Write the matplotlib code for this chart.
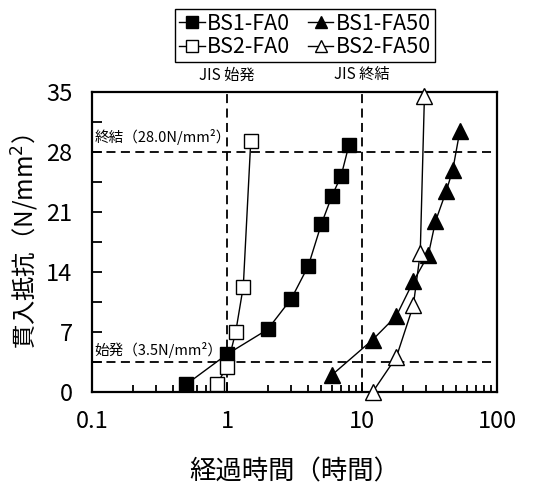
import matplotlib
matplotlib.use('Agg')
import matplotlib.pyplot as plt
from matplotlib.ticker import FixedLocator, NullFormatter, MultipleLocator

plt.rcParams['font.family'] = ['Noto Sans CJK JP', 'DejaVu Sans']

# elapsed time (h) and penetration resistance (N/mm2)
bs1_fa0_t = [0.5, 1.0, 2.0, 3.0, 4.0, 5.0, 6.0, 7.0, 8.0]
bs1_fa0_p = [0.9, 4.4, 7.3, 10.9, 14.7, 19.6, 22.9, 25.2, 28.8]
bs2_fa0_t = [0.84, 1.0, 1.16, 1.32, 1.5]
bs2_fa0_p = [0.9, 2.95, 7.0, 12.3, 29.3]
bs1_fa50_t = [6, 12, 18, 24, 31, 35, 42, 47, 53]
bs1_fa50_p = [2.0, 6.1, 8.9, 12.9, 16.0, 19.9, 23.4, 25.9, 30.4]
bs2_fa50_t = [12, 18, 24, 27, 29]
bs2_fa50_p = [0.0, 4.1, 10.1, 16.2, 34.5]

init_set = 3.5
final_set = 28.0
jis_init_t = 1
jis_final_t = 10

fig = plt.figure(figsize=(5.43, 4.84), dpi=100)
ax = fig.add_axes([92/543, 1 - 392/484, 405/543, 300/484])

ms = 10
kw = dict(color='black', lw=1, clip_on=False, zorder=5)
l1, = ax.plot(bs1_fa0_t, bs1_fa0_p, marker='s', ms=ms, mfc='black', mec='black', label='BS1-FA0', **kw)
l2, = ax.plot(bs2_fa0_t, bs2_fa0_p, marker='s', ms=ms, mfc='white', mec='black', label='BS2-FA0', **kw)
l3, = ax.plot(bs1_fa50_t, bs1_fa50_p, marker='^', ms=ms + 1, mfc='black', mec='black', label='BS1-FA50', **kw)
l4, = ax.plot(bs2_fa50_t, bs2_fa50_p, marker='^', ms=ms + 1, mfc='white', mec='black', label='BS2-FA50', **kw)

dash = dict(color='black', lw=1.3, ls=(0, (5, 3)), zorder=2)
ax.axhline(init_set, **dash)
ax.axhline(final_set, **dash)
ax.axvline(jis_init_t, **dash)
ax.axvline(jis_final_t, **dash)

ax.set_xscale('log')
ax.set_xlim(0.1, 100)
ax.set_ylim(0, 35)
ax.set_xticks([0.1, 1, 10, 100])
ax.set_xticklabels(['0.1', '1', '10', '100'])
ax.xaxis.set_minor_locator(FixedLocator([m * d for d in [0.1, 1, 10] for m in range(2, 10)]))
ax.xaxis.set_minor_formatter(NullFormatter())
ax.yaxis.set_major_locator(MultipleLocator(7))
ax.yaxis.set_minor_locator(MultipleLocator(3.5))
ax.tick_params(which='both', direction='in', top=False, right=False, labelsize=17)
ax.tick_params(axis='y', which='major', length=7, width=1.3, pad=14)
ax.tick_params(axis='y', which='minor', length=7, width=1.3)
ax.tick_params(axis='x', which='major', length=7, width=1.3, pad=13)
ax.tick_params(axis='x', which='minor', length=5, width=1.3)
for s in ax.spines.values():
    s.set_linewidth(1.6)

ax.set_xlabel('経過時間（時間）', fontsize=19, labelpad=18)
ax.set_ylabel('貫入抵抗（N/mm$^2$）', fontsize=17.5, labelpad=4)

ax.text(jis_init_t, 36.0, 'JIS 始発', ha='center', va='bottom', fontsize=11)
ax.text(jis_final_t, 36.0, 'JIS 終結', ha='center', va='bottom', fontsize=11)
ax.text(0.104, final_set + 0.8, '終結（28.0N/mm²）', ha='left', va='bottom', fontsize=10.5)
ax.text(0.104, init_set + 0.5, '始発（3.5N/mm²）', ha='left', va='bottom', fontsize=10.5)

leg = fig.legend(handles=[l1, l2, l3, l4], ncol=2, loc='center',
                 bbox_to_anchor=(305/543, 1 - 35.5/484), fontsize=15.5,
                 handlelength=1.2, handletextpad=0.1, columnspacing=0.8,
                 labelspacing=0.05, borderpad=0.2, fancybox=False,
                 edgecolor='black', framealpha=1, markerscale=0.85)
leg.get_frame().set_linewidth(1.0)

fig.savefig('out.png', dpi=100)
